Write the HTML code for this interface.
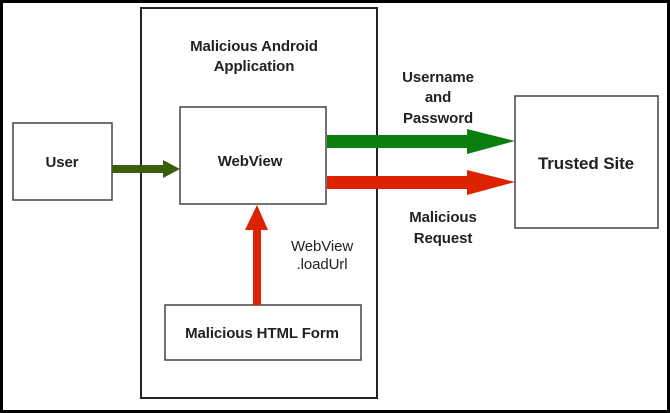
<!DOCTYPE html>
<html><head><meta charset="utf-8"><style>
html,body{margin:0;padding:0;background:#fff;}
svg{display:block;}
text{font-family:"Liberation Sans",sans-serif;font-weight:bold;font-size:15px;fill:#222;text-anchor:middle;letter-spacing:-0.1px;}
</style></head><body>
<svg width="670" height="413" viewBox="0 0 670 413" xmlns="http://www.w3.org/2000/svg">
<rect x="1.5" y="1.5" width="667" height="410" fill="#fff" stroke="#000" stroke-width="3"/>
<rect x="141" y="8" width="236" height="390" fill="none" stroke="#222" stroke-width="2"/>
<rect x="13" y="123" width="99" height="77" fill="#fff" stroke="#444" stroke-width="1.5"/>
<rect x="180" y="107" width="146" height="97" fill="#fff" stroke="#444" stroke-width="1.5"/>
<rect x="515" y="96" width="143" height="132" fill="#fff" stroke="#444" stroke-width="1.5"/>
<rect x="165" y="305" width="196" height="55" fill="#fff" stroke="#444" stroke-width="1.5"/>
<polygon points="112,165 163,165 163,160 180,169 163,178 163,173 112,173" fill="#3a5e0c"/>
<polygon points="327,135 467,135 467,129 515,141 467,154 467,148 327,148" fill="#0a7f10"/>
<polygon points="327,176 467,176 467,170 515,182 467,195 467,189 327,189" fill="#dd2200"/>
<polygon points="253,305 253,230 245,230 257,205 268,230 261,230 261,305" fill="#dd2200"/>
<text x="254" y="51">Malicious Android</text>
<text x="254" y="71">Application</text>
<text x="438" y="82">Username</text>
<text x="438" y="102">and</text>
<text x="438" y="123">Password</text>
<text x="62" y="167">User</text>
<text x="250" y="166">WebView</text>
<text x="586" y="169" style="font-size:17px">Trusted Site</text>
<text x="443" y="222">Malicious</text>
<text x="443" y="243">Request</text>
<text x="322" y="251" style="font-weight:normal">WebView</text>
<text x="322" y="269" style="font-weight:normal">.loadUrl</text>
<text x="262" y="338">Malicious HTML Form</text>
</svg>
</body></html>
